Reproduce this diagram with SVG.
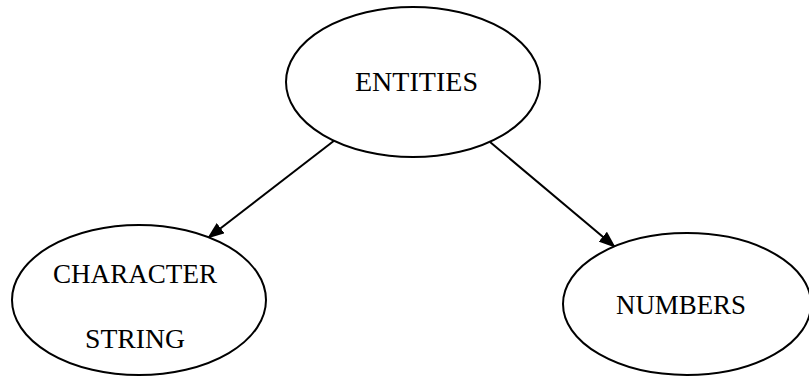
<svg xmlns="http://www.w3.org/2000/svg" width="809" height="378" viewBox="0 0 809 378">
<defs>
<marker id="arr" markerWidth="17" markerHeight="13" refX="16" refY="6.5" orient="auto" markerUnits="userSpaceOnUse">
<path d="M0,0 L17,6.5 L0,13 Z" fill="#000"/>
</marker>
<style>
.node ellipse{fill:#fff;stroke:#000;stroke-width:2}
.lbl{font-family:"Liberation Serif","DejaVu Serif",serif;font-size:27px;fill:#000;text-anchor:middle}
.edge{stroke:#000;stroke-width:2;fill:none;marker-end:url(#arr)}
</style>
</defs>
<rect width="809" height="378" fill="#fff"/>
<g id="connectors">
<line class="edge" x1="335" y1="140" x2="208" y2="238"/>
<line class="edge" x1="490" y1="142" x2="615" y2="247"/>
</g>
<g id="entities" class="node">
<ellipse cx="413" cy="82" rx="127" ry="75"/>
<text class="lbl" x="416.5" y="91" textLength="123" lengthAdjust="spacingAndGlyphs">ENTITIES</text>
</g>
<g id="character-string" class="node">
<ellipse cx="139" cy="300" rx="127" ry="75"/>
<text class="lbl" x="135" y="283" textLength="164" lengthAdjust="spacingAndGlyphs">CHARACTER</text>
<text class="lbl" x="135" y="348" textLength="100" lengthAdjust="spacingAndGlyphs">STRING</text>
</g>
<g id="numbers" class="node">
<ellipse cx="687" cy="304" rx="124" ry="71"/>
<text class="lbl" x="681" y="314" textLength="130" lengthAdjust="spacingAndGlyphs">NUMBERS</text>
</g>
</svg>
